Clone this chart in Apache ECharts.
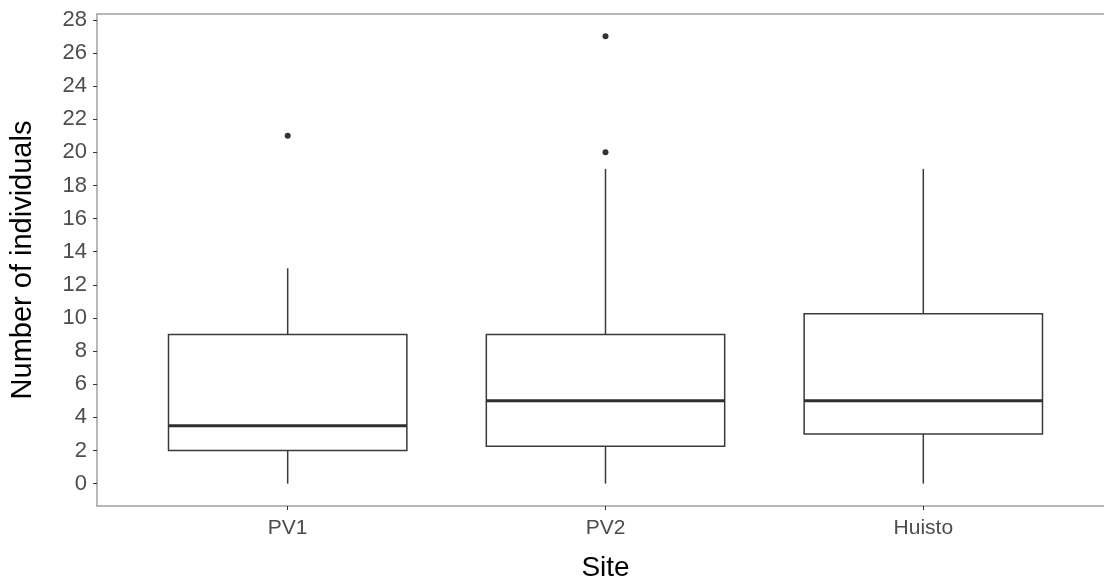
<!DOCTYPE html>
<html>
<head>
<meta charset="utf-8">
<script src="https://cdn.jsdelivr.net/npm/echarts@6/dist/echarts.min.js"></script>
<style>
html,body{margin:0;padding:0;background:#fff;overflow:hidden;}
#chart{width:1104px;height:582px;}
</style>
</head>
<body>
<div id="chart"></div>
<script>
// ---- data ----
const sites = ['PV1', 'PV2', 'Huisto'];
const whiskerLow = [0, 0, 0];
const q1 = [2, 2.25, 3];
const median = [3.5, 5, 5];
const q3 = [9, 9, 10.25];
const whiskerHigh = [13, 19, 19];
const outlierSite = [1, 2, 2];
const outlierValue = [21, 20, 27];
const yTicks = [0, 2, 4, 6, 8, 10, 12, 14, 16, 18, 20, 22, 24, 26, 28];
const xTicks = [1, 2, 3];

const boxData = sites.map((s, i) => [i + 1, whiskerLow[i], q1[i], median[i], q3[i], whiskerHigh[i]]);
const outlierData = outlierSite.map((s, i) => [s, outlierValue[i]]);

const FONT = '"Liberation Sans", Arial, sans-serif';
const axisGrey = '#a0a0a0';
const lineCol = '#3a3a3a';

const chart = echarts.init(document.getElementById('chart'), null, {renderer: 'canvas'});
chart.setOption({
  backgroundColor: '#ffffff',
  animation: false,
  grid: {left: 97, top: 14, width: 1017, height: 492, outerBoundsMode: 'none', containLabel: false},
  xAxis: [{
    type: 'value', min: 0.4, max: 3.6,
    axisLine: {show: true, onZero: false, lineStyle: {color: axisGrey, width: 1.5}},
    axisTick: {show: true, customValues: xTicks, length: 4, lineStyle: {color: '#333', width: 1}},
    axisLabel: {
      show: true, customValues: xTicks, margin: 12,
      formatter: v => sites[Math.round(v) - 1] || '',
      fontFamily: FONT, fontSize: 21, color: '#4d4d4d'
    },
    splitLine: {show: false},
    name: 'Site', nameLocation: 'middle', nameGap: 48,
    nameTextStyle: {fontFamily: FONT, fontSize: 28, color: '#000'}
  }, {
    type: 'value', min: 0.4, max: 3.6, position: 'top',
    axisLine: {show: true, onZero: false, lineStyle: {color: axisGrey, width: 1.5}},
    axisTick: {show: false}, axisLabel: {show: false}, splitLine: {show: false}
  }],
  yAxis: {
    type: 'value', min: -1.35, max: 28.35,
    axisLine: {show: true, onZero: false, lineStyle: {color: axisGrey, width: 1.5}},
    axisTick: {show: true, customValues: yTicks, length: 4, lineStyle: {color: '#333', width: 1}},
    axisLabel: {
      show: true, customValues: yTicks, margin: 10,
      fontFamily: FONT, fontSize: 22, color: '#4d4d4d'
    },
    splitLine: {show: false},
    name: 'Number of individuals', nameLocation: 'middle', nameGap: 60,
    nameTextStyle: {fontFamily: FONT, fontSize: 29, color: '#000'}
  },
  series: [{
    type: 'custom',
    xAxisIndex: 0,
    data: boxData,
    renderItem: function (params, api) {
      const x = api.value(0);
      const pLow = api.coord([x, api.value(1)]);
      const pQ1 = api.coord([x, api.value(2)]);
      const pMed = api.coord([x, api.value(3)]);
      const pQ3 = api.coord([x, api.value(4)]);
      const pHigh = api.coord([x, api.value(5)]);
      const half = api.size([0.75, 0])[0] / 2;
      const cx = pMed[0];
      return {
        type: 'group',
        children: [
          {type: 'line', shape: {x1: cx, y1: pQ3[1], x2: cx, y2: pHigh[1]}, style: {stroke: lineCol, lineWidth: 1.5}},
          {type: 'line', shape: {x1: cx, y1: pQ1[1], x2: cx, y2: pLow[1]}, style: {stroke: lineCol, lineWidth: 1.5}},
          {type: 'rect', shape: {x: cx - half, y: pQ3[1], width: 2 * half, height: pQ1[1] - pQ3[1]},
            style: {fill: '#ffffff', stroke: lineCol, lineWidth: 1.5}},
          {type: 'line', shape: {x1: cx - half, y1: pMed[1], x2: cx + half, y2: pMed[1]}, style: {stroke: '#2e2e2e', lineWidth: 3}}
        ]
      };
    }
  }, {
    type: 'scatter',
    xAxisIndex: 0,
    data: outlierData,
    symbol: 'circle',
    symbolSize: 6,
    itemStyle: {color: '#000'}
  }]
});
</script>
</body>
</html>
